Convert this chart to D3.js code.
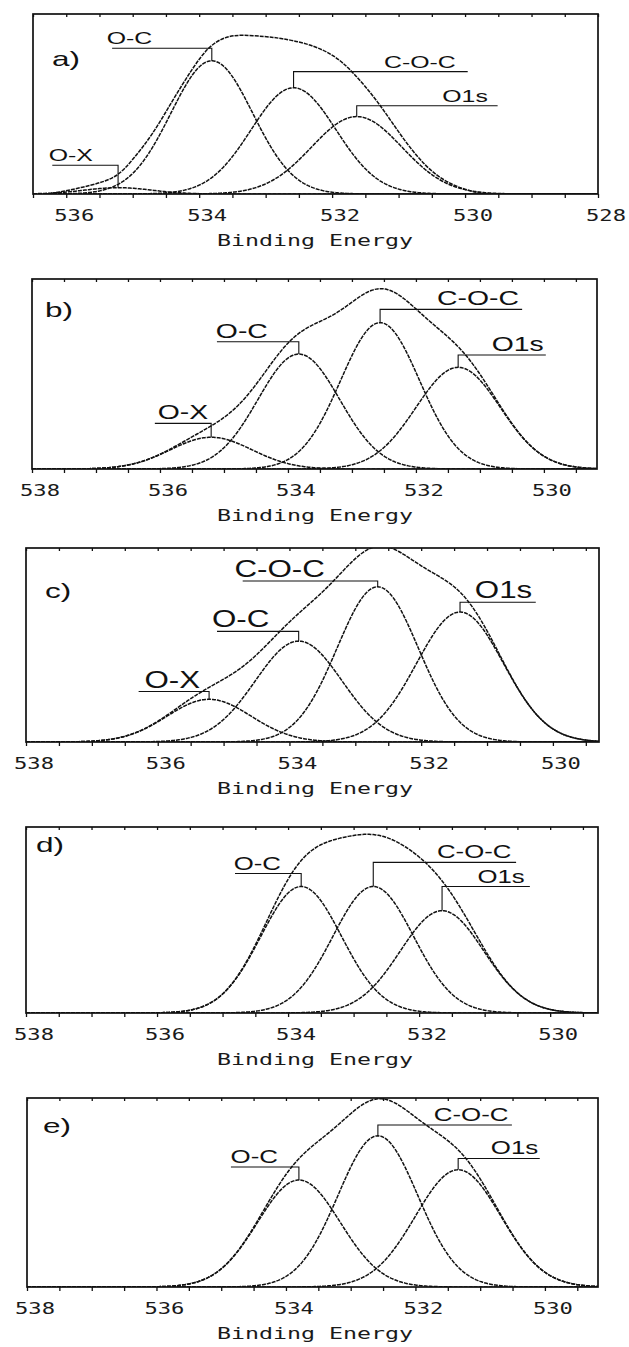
<!DOCTYPE html>
<html>
<head>
<meta charset="utf-8">
<script src="https://cdn.jsdelivr.net/npm/d3@7"></script>
<style>
  body { margin: 0; background: #fff; }
  .frame { fill: none; stroke: #111; stroke-width: 1.7; }
  .curve { fill: none; stroke: #111; stroke-width: 1.5; stroke-dasharray: 4 1; }
  .leader { fill: none; stroke: #111; stroke-width: 1.1; }
  .axis path { display: none; }
  .axis line { stroke: #111; stroke-width: 1.3; }
  .tick-label { font-family: "DejaVu Sans Mono", monospace; fill: #1a1a1a; }
  .peak-label, .panel-letter { font-family: "Liberation Sans", Arial, sans-serif; fill: #111; }
</style>
</head>
<body>
<script>
// ---- data ----
var panelNames = ["a)", "b)", "c)", "d)", "e)"];
var componentNames = ["O-X", "O-C", "C-O-C", "O1s"];

// binding energy range shown on each panel (left edge, right edge)
var domainLeft = [536.5, 538, 538, 538, 538];
var domainRight = [528, 529.17, 529.3, 529.27, 529.18];

// labelled ticks
var tickLabels = [
    [536, 534, 532, 530, 528],
    [538, 536, 534, 532, 530],
    [538, 536, 534, 532, 530],
    [538, 536, 534, 532, 530],
    [538, 536, 534, 532, 530]
];

// fitted peaks: centre (eV), height (fraction of full scale), FWHM (eV); null = no peak
var peakCenter = [
    [535.22, 533.81, 532.58, 531.63],
    [535.20, 533.83, 532.56, 531.34],
    [535.22, 533.86, 532.66, 531.41],
    [null, 533.80, 532.70, 531.65],
    [null, 533.80, 532.58, 531.34]
];
var peakHeight = [
    [0.035, 0.74, 0.59, 0.43],
    [0.167, 0.605, 0.77, 0.535],
    [0.22, 0.52, 0.80, 0.67],
    [null, 0.68, 0.68, 0.55],
    [null, 0.566, 0.80, 0.62]
];
var peakFwhm = [
    [1.2, 1.45, 1.5, 1.6],
    [1.5, 1.5, 1.45, 1.55],
    [1.5, 1.55, 1.45, 1.55],
    [null, 1.45, 1.45, 1.5],
    [null, 1.5, 1.45, 1.55]
];

// measured envelope of panel a (it lies above the sum of the fitted peaks)
var envelopeEnergyA = [536.3, 536.09, 535.6, 535.24, 535.0, 534.7, 534.4, 534.1, 533.86, 533.61,
    533.37, 533.0, 532.77, 532.4, 531.99, 531.69, 531.32, 530.96, 530.6, 530.23, 529.78, 529.5];
var envelopeValueA = [0.0, 0.01, 0.05, 0.09, 0.19, 0.33, 0.52, 0.70, 0.82, 0.875,
    0.885, 0.875, 0.865, 0.84, 0.78, 0.68, 0.52, 0.32, 0.15, 0.05, 0.0, 0.0];

// label leaders: level of the horizontal line, far end of the line (eV), centre of the text (eV)
var labelLevel = [
    [0.16, 0.81, 0.68, 0.49],
    [0.24, 0.67, 0.84, 0.60],
    [0.26, 0.57, 0.83, 0.72],
    [null, 0.75, 0.81, 0.68],
    [null, 0.635, 0.857, 0.68]
];
var labelEnd = [
    [536.21, 535.31, 529.96, 529.51],
    [536.08, 535.11, 530.34, 529.97],
    [536.29, 535.10, 534.71, 530.26],
    [null, 534.81, 530.52, 530.31],
    [null, 534.85, 530.51, 530.08]
];
var labelCenter = [
    [535.93, 535.05, 530.68, 530.00],
    [535.64, 534.72, 531.03, 530.41],
    [535.78, 534.74, 534.15, 530.75],
    [null, 534.47, 531.16, 530.75],
    [null, 534.49, 531.14, 530.47]
];

var axisTitle = "Binding Energy";

// ---- layout ----
var frames = [
    { x0: 33, x1: 598, y0: 14, y1: 194 },
    { x0: 32, x1: 597, y0: 279, y1: 469 },
    { x0: 26, x1: 599, y0: 548, y1: 742 },
    { x0: 26, x1: 598, y0: 827, y1: 1013 },
    { x0: 27, x1: 598, y0: 1098, y1: 1287 }
];
var labelFont = [16, 21, 23, 18, 19];
var labelStretch = [1.55, 1.35, 1.36, 1.43, 1.36];
var letterPos = [[19, 52], [13, 38], [19, 50], [10, 25], [16, 35]];

var svg = d3.select("body").append("svg")
    .attr("width", 629)
    .attr("height", 1347);

function gauss(e, c, h, w) {
    var t = (e - c) / w;
    return h * Math.exp(-4 * Math.LN2 * t * t);
}

// stretch a text element horizontally to match the scanned figure
function stretch(sel, k) {
    sel.each(function() {
        var w = this.getComputedTextLength();
        d3.select(this)
            .attr("textLength", w * k)
            .attr("lengthAdjust", "spacingAndGlyphs");
    });
}

panelNames.forEach(function(name, i) {
    var f = frames[i];
    var x = d3.scaleLinear().domain([domainLeft[i], domainRight[i]]).range([f.x0, f.x1]);
    var y = d3.scaleLinear().domain([0, 1]).range([f.y1, f.y0]);

    var g = svg.append("g");

    g.append("clipPath")
        .attr("id", "clip" + i)
        .append("rect")
        .attr("x", f.x0)
        .attr("y", f.y0)
        .attr("width", f.x1 - f.x0)
        .attr("height", f.y1 - f.y0);

    // tick marks every 0.5 eV
    var lo = Math.min(domainLeft[i], domainRight[i]);
    var hi = Math.max(domainLeft[i], domainRight[i]);
    var ticks = d3.range(Math.ceil(lo * 2) / 2, hi + 0.001, 0.5);

    g.append("g")
        .attr("class", "axis")
        .attr("transform", "translate(0," + f.y1 + ")")
        .call(d3.axisBottom(x).tickValues(ticks).tickSize(4).tickSizeOuter(0).tickFormat(""));

    g.append("g")
        .attr("class", "axis")
        .attr("transform", "translate(0," + f.y0 + ")")
        .call(d3.axisTop(x).tickValues(ticks).tickSize(-3).tickSizeOuter(0).tickFormat(""));

    // tick labels
    g.selectAll(".tick-label")
        .data(tickLabels[i])
        .enter()
        .append("text")
        .attr("class", "tick-label")
        .attr("x", function(d) { return x(d) + 8; })
        .attr("y", f.y1 + 27)
        .attr("text-anchor", "middle")
        .attr("font-size", 16)
        .attr("textLength", 40)
        .attr("lengthAdjust", "spacingAndGlyphs")
        .text(function(d) { return d; });

    g.append("text")
        .attr("class", "tick-label")
        .attr("x", 315)
        .attr("y", f.y1 + 52)
        .attr("text-anchor", "middle")
        .attr("font-size", 16)
        .attr("textLength", 196)
        .attr("lengthAdjust", "spacingAndGlyphs")
        .text(axisTitle);

    // component curves and envelope
    var energies = d3.range(hi, lo - 0.001, -0.02);
    var line = d3.line()
        .x(function(d) { return x(d.e); })
        .y(function(d) { return y(d.v); });

    var curves = g.append("g").attr("clip-path", "url(#clip" + i + ")");

    componentNames.forEach(function(c, j) {
        if (peakCenter[i][j] === null) return;
        var pts = energies.map(function(e) {
            return { e: e, v: gauss(e, peakCenter[i][j], peakHeight[i][j], peakFwhm[i][j]) };
        });
        curves.append("path")
            .datum(pts)
            .attr("class", "curve")
            .attr("d", line);
    });

    if (i === 0) {
        var measured = envelopeEnergyA.map(function(e, k) {
            return { e: e, v: envelopeValueA[k] };
        });
        curves.append("path")
            .datum(measured)
            .attr("class", "curve")
            .attr("d", line.curve(d3.curveBasis));
    } else {
        var envelope = energies.map(function(e) {
            var s = 0;
            componentNames.forEach(function(c, j) {
                if (peakCenter[i][j] !== null) {
                    s += gauss(e, peakCenter[i][j], peakHeight[i][j], peakFwhm[i][j]);
                }
            });
            return { e: e, v: s };
        });
        curves.append("path")
            .datum(envelope)
            .attr("class", "curve")
            .attr("d", line);
    }

    // frame
    g.append("rect")
        .attr("class", "frame")
        .attr("x", f.x0)
        .attr("y", f.y0)
        .attr("width", f.x1 - f.x0)
        .attr("height", f.y1 - f.y0);

    // peak labels with leader lines
    componentNames.forEach(function(c, j) {
        if (peakCenter[i][j] === null) return;
        var px = x(peakCenter[i][j]);
        var ly = y(labelLevel[i][j]);
        g.append("path")
            .attr("class", "leader")
            .attr("d", "M" + x(labelEnd[i][j]) + "," + ly +
                "H" + px + "V" + y(peakHeight[i][j]));
        g.append("text")
            .attr("class", "peak-label")
            .attr("x", x(labelCenter[i][j]))
            .attr("y", ly - 4)
            .attr("text-anchor", "middle")
            .attr("font-size", labelFont[i])
            .text(c)
            .call(stretch, labelStretch[i]);
    });

    // panel letter
    g.append("text")
        .attr("class", "panel-letter")
        .attr("x", f.x0 + letterPos[i][0])
        .attr("y", f.y0 + letterPos[i][1])
        .attr("font-size", 21)
        .text(name)
        .call(stretch, 1.5);
});
</script>
</body>
</html>
